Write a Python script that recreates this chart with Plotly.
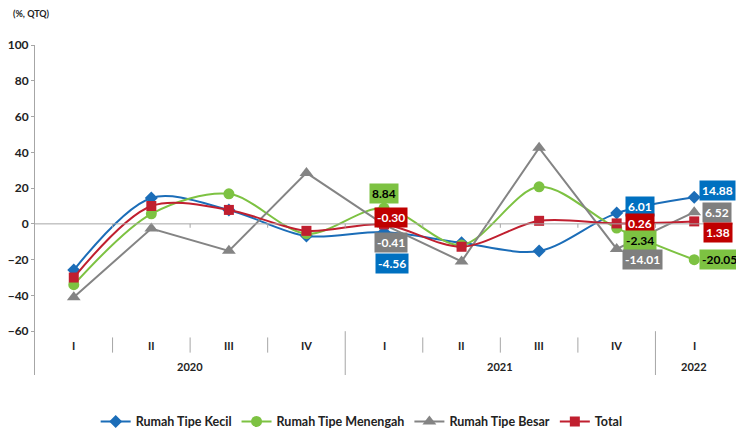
import plotly.graph_objects as go

quarters = ["I", "II", "III", "IV", "I", "II", "III", "IV", "I"]
years = ["2020", "2021", "2022"]
year_spans = [(0, 3), (4, 7), (8, 8)]

kecil = [-25.8, 14.5, 7.8, -6.8, -4.56, -10.6, -15.2, 6.01, 14.88]
menengah = [-34.0, 5.6, 16.8, -5.5, 8.84, -11.8, 20.7, -2.34, -20.05]
besar = [-41.0, -2.6, -15.1, 28.5, -0.41, -21.0, 42.5, -14.01, 6.52]
total = [-30.0, 10.0, 7.8, -3.9, -0.30, -12.8, 1.7, 0.26, 1.38]

y_ticks = [-60, -40, -20, 0, 20, 40, 60, 80, 100]

FONT = "Lato, Roboto, Liberation Sans, Arial"
BLUE = "#1B6DB8"
GREEN = "#7DC242"
GRAY = "#848484"
RED = "#C01F2F"

xs = list(range(len(quarters)))

series = [
    ("Rumah Tipe Kecil", kecil, BLUE, "diamond", 10, "spline"),
    ("Rumah Tipe Menengah", menengah, GREEN, "circle", 11, "spline"),
    ("Rumah Tipe Besar", besar, GRAY, "triangle-up", 12, "linear"),
    ("Total", total, RED, "square", 10, "spline"),
]

fig = go.Figure()
for name, vals, col, sym, sz, shape in series:
    fig.add_trace(go.Scatter(
        x=xs, y=vals, name=name, mode="lines+markers",
        line=dict(color=col, width=2, shape=shape, smoothing=0.9),
        marker=dict(color=col, symbol=sym, size=sz),
        cliponaxis=False,
    ))

# data labels (offsets in pixels)
label_specs = [
    # (series values, color, text color, index, xshift, yshift)
    (menengah, GREEN, "black", 4, 0, 15),
    (total, "#C00000", "white", 4, 7, 7),
    (besar, "#7F7F7F", "white", 4, 7, -18),
    (kecil, "#0070C0", "white", 4, 8, -31),
    (kecil, "#0070C0", "white", 7, 23, 7),
    (total, "#C00000", "white", 7, 23, 0),
    (menengah, GREEN, "black", 7, 23, -12),
    (besar, "#7F7F7F", "white", 7, 26, -11),
    (kecil, "#0070C0", "white", 8, 23, 7),
    (besar, "#7F7F7F", "white", 8, 23, 0),
    (total, "#C00000", "white", 8, 24, -11),
    (menengah, GREEN, "black", 8, 25, 0),
]
annotations = []
for vals, bg, fc, i, dx, dy in label_specs:
    annotations.append(dict(
        x=xs[i], y=vals[i], xref="x", yref="y", text=f"{vals[i]:.2f}",
        showarrow=False, xshift=dx, yshift=dy, bgcolor=bg, borderpad=2,
        font=dict(family=FONT, size=12, color=fc, weight="bold"),
    ))

# quarter labels
for i, q in enumerate(quarters):
    annotations.append(dict(x=xs[i], y=-68, xref="x", yref="y", text=q,
                            showarrow=False,
                            font=dict(family=FONT, size=11, color="#222", weight="bold")))
# year labels
for yr, (a, b) in zip(years, year_spans):
    annotations.append(dict(x=(xs[a] + xs[b]) / 2, y=-79.5, xref="x", yref="y", text=yr,
                            showarrow=False,
                            font=dict(family=FONT, size=11, color="#222", weight="bold")))
annotations.append(dict(x=-0.035, y=1.094, xref="paper", yref="paper", text="(%, QTQ)",
                        showarrow=False, xanchor="left", yanchor="middle",
                        font=dict(family=FONT, size=9, color="#222", weight="bold")))

shapes = []
# dividers between quarters (short) and years (long)
year_breaks = [b + 0.5 for (_, b) in year_spans[:-1]]
for k in range(len(quarters) - 1):
    xb = k + 0.5
    if xb in year_breaks:
        shapes.append(dict(type="line", xref="x", yref="y", x0=xb, x1=xb, y0=-60, y1=-84.5,
                           line=dict(color="#A6A6A6", width=1)))
    else:
        shapes.append(dict(type="line", xref="x", yref="y", x0=xb, x1=xb, y0=-63.5, y1=-72,
                           line=dict(color="#A6A6A6", width=1)))
# zero line with small ticks
shapes.append(dict(type="line", xref="x", yref="y", x0=-0.5, x1=8.5, y0=0, y1=0,
                   line=dict(color="#A6A6A6", width=1)))
for k in range(len(quarters) - 1):
    shapes.append(dict(type="line", xref="x", yref="y", x0=k + 0.5, x1=k + 0.5, y0=0, y1=-2.2,
                       line=dict(color="#A6A6A6", width=1)))

fig.update_layout(
    width=736, height=435,
    margin=dict(l=35, r=3, t=45, b=60, autoexpand=False),
    paper_bgcolor="white", plot_bgcolor="white",
    showlegend=True,
    legend=dict(orientation="h", x=0.468, xanchor="center", y=-0.142, yanchor="middle",
                font=dict(family=FONT, size=12.5, color="#222", weight="bold"),
                itemwidth=30, tracegroupgap=0),
    annotations=annotations, shapes=shapes,
    xaxis=dict(range=[-0.5, 8.5], showgrid=False, zeroline=False, showticklabels=False,
               showline=False, fixedrange=True, automargin=False),
    yaxis=dict(range=[-84.5, 100], tickvals=y_ticks, showgrid=False, zeroline=False,
               showline=True, linecolor="#A6A6A6", linewidth=1, ticks="outside", ticklen=3,
               tickcolor="#A6A6A6", automargin=False,
               tickfont=dict(family=FONT, size=12, color="#222", weight="bold")),
)

fig.write_html("out.html", config={"displayModeBar": False},
               post_script="document.body.style.margin='0';")
